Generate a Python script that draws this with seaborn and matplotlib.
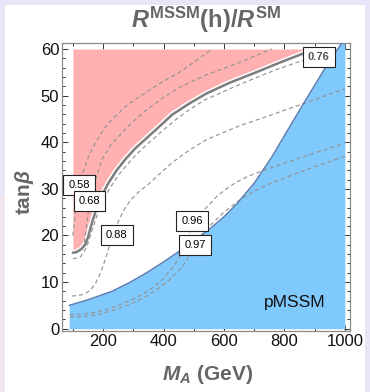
import numpy as np
import pandas as pd
import matplotlib
matplotlib.use("Agg")
import matplotlib.pyplot as plt
import seaborn as sns
from matplotlib.patches import Rectangle
from matplotlib.ticker import MultipleLocator

# lower edge of the pink (excluded) region, M_A in GeV vs tan(beta)
pink_ma = [100, 110, 119, 130, 141, 150, 157, 165, 174, 195, 218, 245, 273, 305, 339,
           380, 428, 485, 543, 620, 702, 785, 868, 891]
pink_tb = [16.3, 16.4, 16.7, 17.2, 18.1, 19.6, 21.3, 23.1, 24.9, 28.5, 31.3, 34.0, 36.3,
           38.6, 40.6, 43.0, 45.9, 48.3, 50.5, 52.8, 54.9, 57.1, 59.2, 60]

# upper edge of the blue (pMSSM) region
blue_ma = [88, 150, 229, 285, 339, 395, 461, 510, 553, 600, 640, 700, 760, 808, 868, 945, 990, 1000]
blue_tb = [5.0, 6.2, 8.0, 9.8, 11.8, 14.1, 17.0, 19.3, 21.4, 24.0, 26.6, 31.2, 37.0, 42.3,
           48.8, 57.0, 61.3, 61.5]

# dashed contours of R^MSSM(h)/R^SM
c058_ma = [100, 106, 112, 122, 135, 152, 174, 200, 229, 280, 339, 395, 450, 505, 560]
c058_tb = [20, 23.5, 27, 31, 33.8, 37.0, 39.8, 42.6, 44.9, 48.0, 50.6, 52.9, 54.9, 57.4, 60]
c068_ma = [138, 145, 155, 165, 175, 196, 225, 262, 300, 339, 395, 450, 543, 647, 758]
c068_tb = [18.5, 22, 27.3, 29.9, 32, 36.3, 39.4, 42, 44.5, 46.7, 49.4, 51.7, 54.5, 57, 60]
c076_ma = [100, 125, 145, 162, 180, 200, 225, 250, 280, 310, 345, 390, 435, 485, 537,
           620, 700, 770, 835, 900]
c076_tb = [15.0, 15.4, 17.4, 20.8, 24.3, 27.6, 30.4, 32.9, 35.2, 37.4, 39.5, 42.1, 44.6,
           47.0, 49.1, 51.5, 53.7, 55.5, 57.0, 58.3]
c088_ma = [97, 125, 146, 160, 174, 188, 200, 213, 225, 250, 270, 290, 320, 350, 390, 428,
           485, 543, 650, 758, 880, 1000]
c088_tb = [7.0, 7.2, 7.7, 8.4, 9.6, 11.4, 13.5, 16.0, 18.5, 23.0, 25.6, 27.5, 29.5, 31.0,
           33.4, 35.6, 38.3, 40.6, 43.5, 45.9, 48.7, 51.5]
c096_ma = [90, 130, 174, 210, 250, 295, 339, 370, 400, 425, 450, 472, 494, 520, 550, 575,
           603, 640, 680, 740, 800, 900, 1000]
c096_tb = [3.0, 3.1, 3.5, 4.1, 5.0, 6.2, 7.7, 9.1, 10.8, 12.7, 15.0, 18.5, 22.0, 24.6,
           26.5, 28.3, 29.8, 31.4, 32.7, 34.2, 35.5, 37.7, 39.8]
c097_ma = [90, 130, 174, 210, 250, 295, 339, 380, 420, 445, 470, 490, 504, 530, 560, 600,
           650, 700, 758, 880, 1000]
c097_tb = [2.5, 2.6, 2.9, 3.5, 4.3, 5.4, 6.8, 8.5, 10.5, 12.1, 14.0, 16.3, 18.0, 20.4,
           22.5, 25.0, 27.5, 29.5, 31.3, 34.3, 37.0]

label_text = ['0.58', '0.68', '0.76', '0.88', '0.96', '0.97']
label_ma = [120, 155, 914, 245, 494, 504]
label_tb = [30.8, 27.3, 58.3, 20.0, 23.1, 18.0]

xticks = [200, 400, 600, 800, 1000]
yticks = [0, 10, 20, 30, 40, 50, 60]

sns.set_theme(style="ticks")
plt.rcParams['font.family'] = ['Liberation Sans', 'DejaVu Sans']
plt.rcParams['mathtext.fontset'] = 'custom'
plt.rcParams['mathtext.rm'] = 'Liberation Sans:bold'
plt.rcParams['mathtext.bf'] = 'Liberation Sans:bold'
plt.rcParams['mathtext.it'] = 'Liberation Sans:italic:bold'

fig = plt.figure(figsize=(3.7, 3.92), dpi=100, facecolor='#e7e5f8')
fig.patches.append(Rectangle((5 / 370, 0), 360 / 370, 387 / 392, transform=fig.transFigure,
                             facecolor='white', edgecolor='none', zorder=-5))
fig.patches.append(Rectangle((0, 0), 5 / 370, 0.5, transform=fig.transFigure,
                             facecolor='#f3e5f0', edgecolor='none', zorder=-5))
ax = fig.add_axes([62 / 370, 1 - 331 / 392, 288 / 370, 288 / 392])
ax.set_zorder(1)
ax.set_facecolor('white')

ax.fill_between(pink_ma, pink_tb, 60, color='#ffb1b1', lw=0, zorder=1)
ax.fill_between(blue_ma, 0, blue_tb, color='#80c9fc', lw=0, zorder=1)

dash_kw = dict(color='#939393', lw=0.85, dashes=(3.5, 2.5), estimator=None, ax=ax, zorder=3)
for xs, ys in [(c058_ma, c058_tb), (c068_ma, c068_tb), (c076_ma, c076_tb),
               (c088_ma, c088_tb), (c096_ma, c096_tb), (c097_ma, c097_tb)]:
    sns.lineplot(x=xs, y=ys, **dash_kw)

# solid boundaries
sns.lineplot(x=pink_ma, y=pink_tb, color='white', lw=4, estimator=None, ax=ax, zorder=2)
sns.lineplot(x=pink_ma, y=pink_tb, color='#7d7d7d', lw=1.8, estimator=None, ax=ax, zorder=4)
sns.lineplot(x=blue_ma, y=blue_tb, color='#5a7db3', lw=1.1, estimator=None, ax=ax, zorder=4)

for t, xm, yt in zip(label_text, label_ma, label_tb):
    bold = t == '0.76'
    ax.text(xm, yt, t, fontsize=8, ha='center', va='center', zorder=6,
            color='#555555' if bold else 'black', fontweight='bold' if bold else 'normal',
            bbox=dict(boxstyle='square,pad=0.45', fc='white', ec='#222222', lw=0.8),
            clip_on=False)

ax.text(835, 5.6, 'pMSSM', fontsize=12.5, ha='center', va='center', color='#111111', zorder=6)

ax.set_xlim(64, 1017)
ax.set_ylim(-0.5, 61.3)
ax.set_xticks(xticks)
ax.set_yticks(yticks)
ax.xaxis.set_minor_locator(MultipleLocator(100))
ax.yaxis.set_minor_locator(MultipleLocator(2))
ax.tick_params(which='both', direction='in', top=True, right=True, colors='#333333',
               labelcolor='#111111', labelsize=12, width=0.7, pad=2)
ax.tick_params(which='major', length=4)
ax.tick_params(which='minor', length=2)
for s in ax.spines.values():
    s.set_color('#8a8a8a')
    s.set_linewidth(0.9)

fig.text(0.557, 1 - 20 / 392, r'$\mathit{R}^{\mathrm{MSSM}}\mathrm{(h)/}\mathit{R}^{\mathrm{SM}}$',
         ha='center', va='center', fontsize=17, color='#666666')
fig.text(0.56, 1 - 374 / 392, r'$\mathit{M}_{\mathit{A}}$ (GeV)', ha='center', va='center',
         fontsize=15, color='#666666', fontweight='bold')
fig.text(25 / 370, 1 - 192 / 392, r'tan$\mathit{\beta}$', ha='center', va='center', rotation=90,
         fontsize=15, color='#666666', fontweight='bold')

fig.savefig('out.png', dpi=100, facecolor=fig.get_facecolor())
